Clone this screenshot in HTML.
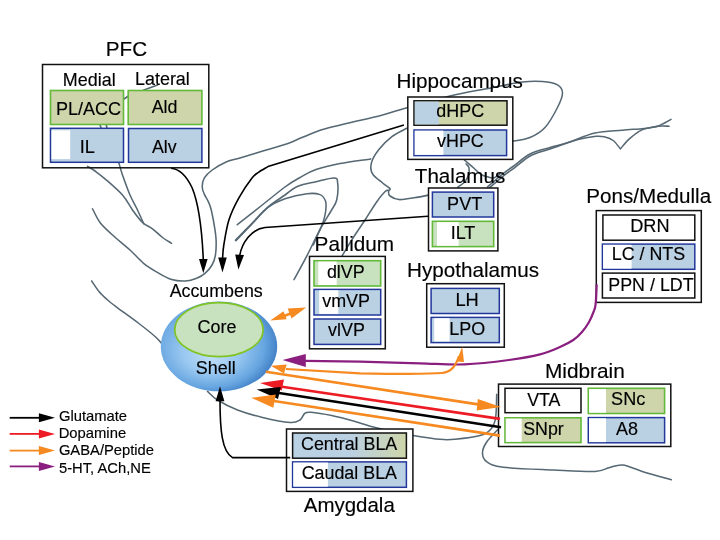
<!DOCTYPE html>
<html><head><meta charset="utf-8">
<style>
html,body{margin:0;padding:0;background:#fff;overflow:hidden;}
svg{display:block;}
text{font-family:"Liberation Sans",sans-serif;fill:#000;stroke:#000;stroke-width:0.15px;}
svg{will-change:transform;}
</style></head>
<body>
<svg width="720" height="540" viewBox="0 0 720 540">
<defs>
<radialGradient id="shell" cx="0.42" cy="0.45" r="0.62" fx="0.44" fy="0.62">
<stop offset="0" stop-color="#c0def8"/>
<stop offset="0.4" stop-color="#98c7f0"/>
<stop offset="0.75" stop-color="#66a5e0"/>
<stop offset="1" stop-color="#3a78c0"/>
</radialGradient>
<linearGradient id="cbla" x1="0" x2="1" y1="0" y2="0">
<stop offset="0" stop-color="#bad0e3"/>
<stop offset="0.5" stop-color="#bad0e3"/>
<stop offset="1" stop-color="#ced5aa"/>
</linearGradient>
</defs>

<g fill="none" stroke="#566873" stroke-width="1.55" stroke-linecap="round" stroke-linejoin="round">
<path d="M87.5,166.3 C88.8,167.1 92.1,168.9 95.0,171.0 C97.9,173.1 100.4,174.8 105.0,178.8 C109.6,182.8 117.9,189.8 122.5,195.0 C127.1,200.2 129.2,205.4 132.5,210.0 C135.8,214.6 139.2,219.4 142.5,222.5 C145.8,225.6 149.2,226.3 152.5,228.8 C155.8,231.3 159.3,235.1 162.5,237.5 C165.7,239.9 170.0,242.3 171.5,243.3"/>
<path d="M118.8,162.5 C119.4,164.6 120.6,169.6 122.5,175.0 C124.4,180.4 127.5,189.2 130.0,195.0 C132.5,200.8 135.2,205.2 137.5,210.0 C139.8,214.8 142.7,221.5 143.8,223.8"/>
<path d="M92.5,208.8 C93.8,211.0 96.7,218.1 100.0,222.5 C103.3,226.9 107.5,230.4 112.5,235.0 C117.5,239.6 124.8,245.2 130.0,250.0 C135.2,254.8 139.3,259.8 143.9,263.6 C148.5,267.4 153.2,269.9 157.8,272.6 C162.4,275.3 167.1,278.2 171.7,279.6 C176.3,281.0 181.4,281.2 185.6,281.0 C189.8,280.8 193.5,279.5 196.7,278.2 C199.9,276.9 202.4,275.5 205.0,273.3 C207.6,271.1 210.3,268.0 212.0,265.0 C213.7,262.0 214.7,259.5 215.4,255.3 C216.1,251.1 216.3,245.1 216.1,240.0 C215.9,234.9 215.1,230.3 214.2,225.0 C213.3,219.7 211.9,212.5 210.8,208.3 C209.7,204.1 208.6,202.3 207.5,200.0 C206.4,197.7 205.3,196.6 204.4,194.4 C203.5,192.2 202.2,189.5 202.2,186.7 C202.2,183.9 202.7,180.6 204.4,177.8 C206.1,175.0 208.7,172.6 212.2,170.0 C215.7,167.4 221.0,164.2 225.6,162.2 C230.2,160.2 233.7,159.8 240.0,157.9 C246.3,156.0 255.7,153.2 263.6,150.8 C271.5,148.4 280.9,145.9 287.2,143.7 C293.5,141.5 295.5,140.2 301.4,137.8 C307.3,135.4 315.1,131.9 322.6,129.5 C330.1,127.1 336.5,126.0 346.3,123.6 C356.1,121.2 371.4,118.0 381.7,115.3 C391.9,112.6 396.4,110.6 407.8,107.4 C419.2,104.2 437.1,99.1 450.0,96.0 C462.9,92.9 472.9,91.3 485.0,89.0 C497.1,86.7 512.9,83.2 522.5,82.0 C532.1,80.8 536.7,81.0 542.5,81.5 C548.3,82.0 554.2,82.9 557.5,84.8 C560.8,86.7 562.5,89.2 562.5,93.0 C562.5,96.8 560.4,101.8 557.5,107.5 C554.6,113.2 549.6,122.5 545.0,127.5 C540.4,132.5 535.4,135.2 530.0,137.5 C524.6,139.8 515.4,140.7 512.5,141.3"/>
<path d="M91.7,281.0 C92.9,282.8 96.5,288.4 99.0,291.5 C101.5,294.6 104.2,297.0 107.0,299.5 C109.8,302.0 110.2,302.3 115.5,306.3 C120.8,310.3 132.2,318.4 138.9,323.5 C145.6,328.6 151.6,333.4 155.6,337.0 C159.6,340.6 161.8,343.7 163.0,345.0"/>
<path d="M237.3,224.7 C241.2,221.6 253.1,212.3 261.0,206.0 C268.9,199.7 278.5,191.8 285.0,187.0 C291.5,182.2 294.8,180.4 300.0,177.5 C305.2,174.6 309.3,171.9 316.0,169.6 C322.7,167.3 330.9,165.3 340.0,163.5 C349.1,161.7 365.5,159.7 370.6,158.9"/>
<path d="M235.4,240.3 C238.1,237.5 246.2,229.2 251.6,223.7 C257.0,218.2 262.2,212.0 267.8,207.2 C273.4,202.4 280.0,198.5 285.0,195.0 C290.0,191.5 292.6,188.5 297.8,186.3 C303.0,184.1 310.0,183.1 316.0,181.7 C322.0,180.3 330.4,177.8 334.0,178.0 C337.6,178.2 337.2,178.9 337.6,182.6 C338.1,186.3 337.8,195.3 336.7,200.0 C335.6,204.7 333.8,206.1 331.0,211.0 C328.2,215.9 324.0,222.2 320.0,229.6 C316.0,237.0 311.3,247.3 307.0,255.6 C302.7,263.9 296.2,275.6 294.0,279.6"/>
<path d="M235.9,240.6 C238.6,237.8 246.7,229.5 252.0,224.0 C257.3,218.5 262.3,211.8 267.8,207.6 C273.3,203.4 278.5,201.1 285.0,198.8 C291.5,196.5 301.2,194.4 307.0,193.7 C312.8,193.0 316.9,193.4 320.0,194.6 C323.1,195.8 324.5,198.4 325.5,201.0 C326.5,203.6 326.1,206.7 325.8,210.0 C325.5,213.3 324.7,217.2 323.5,221.0 C322.3,224.8 320.2,229.0 318.5,233.0 C316.8,237.0 314.2,243.0 313.3,245.0"/>
<path d="M341.8,256.3 C343.7,253.2 349.1,244.1 353.0,238.0 C356.9,231.9 361.0,226.1 365.0,220.0 C369.0,213.9 373.6,206.3 377.0,201.5 C380.4,196.7 383.4,193.2 385.4,191.3 C387.4,189.5 388.4,190.6 389.0,190.4"/>
<path d="M406.7,128.3 C404.2,129.7 396.5,133.1 391.9,136.7 C387.3,140.2 382.3,145.3 378.9,149.6 C375.5,153.9 372.6,158.6 371.5,162.6 C370.4,166.6 370.5,170.3 372.4,173.7 C374.2,177.1 379.7,180.5 382.6,183.0 C385.5,185.5 389.0,187.1 390.0,188.5 C391.0,189.9 388.5,190.2 388.5,191.5 C388.5,192.8 388.2,194.7 390.0,196.0 C391.8,197.3 395.0,199.3 399.0,199.6 C403.0,199.9 409.0,198.6 414.0,197.8 C419.0,197.0 426.4,195.5 428.9,195.0"/>
<path d="M464.4,160.0 C465.7,161.1 469.4,164.3 472.2,166.7 C475.0,169.1 478.2,172.7 481.0,174.4 C483.8,176.2 486.7,176.6 488.9,177.2 C491.1,177.8 492.5,178.4 494.4,177.8 C496.2,177.2 499.1,174.6 500.0,173.9"/>
<path d="M487.5,187.0 C489.9,184.9 497.8,177.9 502.0,174.5 C506.2,171.1 508.3,169.9 513.0,166.5 C517.7,163.1 523.8,157.2 530.0,154.0 C536.2,150.8 543.7,149.4 550.0,147.5 C556.3,145.6 560.5,144.9 568.0,142.5 C575.5,140.1 586.0,135.2 595.0,133.1 C604.0,131.0 614.1,131.0 622.2,130.2 C630.4,129.4 637.9,129.1 643.9,128.4 C649.9,127.7 653.8,127.4 658.3,125.9 C662.8,124.4 668.9,120.5 671.0,119.4"/>
<path d="M489.5,187.8 C491.8,185.8 499.3,179.1 503.5,175.8 C507.7,172.5 509.9,171.2 514.5,167.8 C519.1,164.4 525.1,158.6 531.0,155.5 C536.9,152.4 542.3,151.6 550.0,149.0 C557.7,146.4 569.3,141.9 577.0,139.8 C584.7,137.7 591.3,136.8 596.0,136.3 C600.7,135.8 602.1,136.3 605.0,137.0 C607.9,137.7 610.6,138.5 613.2,140.5 C615.8,142.5 619.2,147.4 620.4,148.8"/>
<path d="M620.4,148.8 C621.9,147.2 625.8,142.1 629.4,138.9 C633.0,135.8 637.2,132.0 642.0,129.9 C646.8,127.8 653.8,126.8 658.3,126.2 C662.8,125.6 667.3,126.2 669.1,126.2"/>
<path d="M466.0,163.9 C466.5,164.6 468.6,165.9 469.0,167.8 C469.4,169.8 469.1,173.2 468.3,175.6 C467.5,178.0 466.1,180.3 464.4,182.2 C462.6,184.1 458.9,186.4 457.8,187.2"/>
<path d="M207.5,391.3 C209.2,392.8 212.5,396.9 217.5,400.0 C222.5,403.1 230.0,407.1 237.5,410.0 C245.0,412.9 253.8,415.4 262.5,417.5 C271.2,419.6 283.8,422.1 290.0,422.5 C296.2,422.9 297.6,421.5 300.0,420.0 C302.4,418.5 302.8,414.8 304.6,413.5 C306.4,412.2 306.3,411.9 310.8,412.3 C315.3,412.7 324.8,414.2 331.7,415.6 C338.6,417.0 345.6,418.9 352.5,420.8 C359.4,422.7 366.2,425.1 373.3,427.0 C380.4,428.9 388.4,430.6 395.0,432.0 C401.6,433.4 405.5,434.2 413.0,435.4 C420.5,436.6 433.0,438.6 440.0,439.3 C447.0,440.0 448.3,439.9 455.0,439.3 C461.7,438.7 474.0,437.3 480.0,435.6 C486.0,433.9 488.4,431.9 491.0,428.9 C493.6,425.9 494.7,423.6 495.6,417.8 C496.6,412.1 496.5,398.3 496.7,394.4"/>
<path d="M499.0,428.3 C496.9,430.6 489.4,437.9 486.7,442.0 C483.9,446.1 482.5,449.7 482.5,453.0 C482.5,456.3 483.2,459.3 486.7,461.7 C490.2,464.1 492.2,465.8 503.3,467.2 C514.4,468.6 538.0,469.3 553.3,470.0 C568.6,470.7 585.7,471.8 595.0,471.4 C604.3,471.0 604.3,468.9 608.9,467.8 C613.5,466.7 617.2,464.4 622.8,465.0 C628.3,465.6 634.1,468.9 642.2,471.4 C650.3,473.9 666.4,478.4 671.3,479.8"/>
<path d="M143.3,90.3 L157.5,85.0"/>
<path d="M124.0,99.0 L128.4,96.0"/>
<path d="M99.8,124.0 L101.2,128.5"/>
<path d="M106.2,124.0 L107.0,128.5"/>
</g>

<!-- PFC -->
<rect x="42.5" y="64.5" width="166.3" height="103.3" fill="none" stroke="#111" stroke-width="1.5"/>
<rect x="50.5" y="90.5" width="73" height="34" fill="#ced5aa" stroke="#62b93a" stroke-width="1.6"/>
<rect x="128.2" y="90.5" width="73.7" height="34" fill="#ced5aa" stroke="#62b93a" stroke-width="1.6"/>
<rect x="50.5" y="128.3" width="73" height="34" fill="#bad0e3" stroke="#22379a" stroke-width="1.5"/>
<rect x="51.5" y="130.3" width="18.7" height="28.8" fill="#fff"/>
<rect x="128.5" y="128.5" width="73.4" height="33.8" fill="#bad0e3" stroke="#22379a" stroke-width="1.5"/>

<!-- Hippocampus -->
<rect x="407.8" y="97" width="105" height="62.4" fill="#fff" stroke="#111" stroke-width="1.5"/>
<rect x="414" y="100.8" width="93" height="24.4" fill="#ced5aa" stroke="#111" stroke-width="1.5"/>
<rect x="414.8" y="101.6" width="24.1" height="22.8" fill="#bad0e3"/>
<rect x="414" y="130" width="92.6" height="25.6" fill="#bad0e3" stroke="#22379a" stroke-width="1.5"/>
<rect x="414.7" y="130.7" width="28.7" height="24.2" fill="#fff"/>

<!-- Thalamus -->
<rect x="428.5" y="188" width="69.4" height="62.9" fill="#fff" stroke="#111" stroke-width="1.5"/>
<rect x="432.4" y="192.1" width="61.3" height="24.9" fill="#bad0e3" stroke="#22379a" stroke-width="1.5"/>
<rect x="432.4" y="221.3" width="61.3" height="25.3" fill="#c8e1be" stroke="#62b93a" stroke-width="1.6"/>
<rect x="437" y="222.2" width="21.7" height="23.6" fill="#fff"/>

<!-- Pallidum -->
<rect x="309.5" y="256.4" width="75.8" height="92.4" fill="#fff" stroke="#111" stroke-width="1.5"/>
<rect x="314" y="260.7" width="66.7" height="25.3" fill="#c8e1be" stroke="#62b93a" stroke-width="1.6"/>
<rect x="318.3" y="261.6" width="18.4" height="23.4" fill="#fff"/>
<rect x="314" y="289.4" width="66.7" height="25.6" fill="#bad0e3" stroke="#22379a" stroke-width="1.5"/>
<rect x="319.2" y="290.3" width="19.1" height="23.6" fill="#fff"/>
<rect x="314" y="319" width="66.7" height="25.4" fill="#bad0e3" stroke="#22379a" stroke-width="1.5"/>

<!-- Hypothalamus -->
<rect x="426.7" y="283.7" width="77.6" height="63.5" fill="#fff" stroke="#111" stroke-width="1.5"/>
<rect x="431.1" y="288.4" width="68.2" height="25.1" fill="#bad0e3" stroke="#22379a" stroke-width="1.5"/>
<rect x="431.1" y="317.4" width="68.2" height="25.2" fill="#bad0e3" stroke="#22379a" stroke-width="1.5"/>
<rect x="434.2" y="318.2" width="15.4" height="23.2" fill="#fff"/>

<!-- Pons/Medulla -->
<rect x="596.3" y="210.6" width="105" height="91.8" fill="#fff" stroke="#111" stroke-width="1.5"/>
<rect x="602.9" y="215" width="91.9" height="25.2" fill="#fff" stroke="#111" stroke-width="1.5"/>
<rect x="602.4" y="244.1" width="92.4" height="25.2" fill="#bad0e3" stroke="#22379a" stroke-width="1.5"/>
<rect x="603.1" y="244.8" width="28.5" height="23.8" fill="#fff"/>
<rect x="602.4" y="273.1" width="92.4" height="24.9" fill="#fff" stroke="#111" stroke-width="1.5"/>

<!-- Midbrain -->
<rect x="498.5" y="384.1" width="172.3" height="62.4" fill="#fff" stroke="#111" stroke-width="1.5"/>
<rect x="505" y="388.3" width="76" height="24.4" fill="#fff" stroke="#111" stroke-width="1.5"/>
<rect x="588.3" y="388.3" width="76.3" height="25.2" fill="#ced5aa" stroke="#62b93a" stroke-width="1.6"/>
<rect x="589.1" y="389.1" width="16.9" height="23.6" fill="#fff"/>
<rect x="505" y="417.8" width="76" height="24.8" fill="#ced5aa" stroke="#62b93a" stroke-width="1.6"/>
<rect x="505.8" y="418.6" width="15.9" height="23.2" fill="#fff"/>
<rect x="588.3" y="417.6" width="76.3" height="25.2" fill="#bad0e3" stroke="#22379a" stroke-width="1.5"/>
<rect x="589" y="418.3" width="17" height="23.8" fill="#fff"/>

<!-- Amygdala -->
<rect x="286.5" y="429" width="126.4" height="62.4" fill="#fff" stroke="#111" stroke-width="1.5"/>
<rect x="292.6" y="433" width="113.8" height="25.2" fill="url(#cbla)" stroke="#111" stroke-width="1.5"/>
<rect x="292.6" y="461.9" width="113.8" height="25.4" fill="#bad0e3" stroke="#22379a" stroke-width="1.5"/>
<rect x="293.3" y="462.6" width="34.6" height="24" fill="#fff"/>

<!-- Accumbens -->
<ellipse cx="219" cy="346.4" rx="58.2" ry="44.9" fill="url(#shell)"/>
<ellipse cx="218.9" cy="329.7" rx="44.2" ry="27" fill="#c8e1be" stroke="#80c423" stroke-width="1.7"/>

<!-- black arrows -->
<g fill="none" stroke="#000" stroke-width="1.6">
<path d="M171.1,168.3 C180,169 187,177 192.2,188 C198,202 202,230 203.3,260"/>
<path d="M403.9,125 L268,166.6 C266.4,167.6 261.1,170.4 258.5,172.3 C255.9,174.2 255.5,173.6 252.2,177.8 C248.9,182.1 242.8,190.8 238.9,197.8 C235.0,204.8 231.4,212.1 228.9,220.0 C226.4,227.9 224.9,238.7 223.8,245.0 C222.8,251.3 222.8,255.8 222.6,258.0"/>
<path d="M428,216.3 L265,227.5 C252,229 242,242 239.6,256"/>
<path d="M290.2,457.6 L232.5,457.6 C222,452 220,430 220,400"/>
</g>
<g fill="#000">
<path d="M203.3,273.3 L199,259 L207.6,259 Z"/>
<path d="M222.5,272.5 L218.2,257.5 L226.8,257.5 Z"/>
<path d="M238.4,269.6 L235.2,254.4 L244,255 Z"/>
<path d="M220,386.3 L215.6,401.3 L224.4,401.3 Z"/>
</g>

<!-- colored arrows -->
<g fill="none" stroke-width="2.6">
<path stroke="#8b1f7f" stroke-width="2.2" d="M305.0,360.8 C314.2,360.9 340.8,361.3 360.0,361.7 C379.2,362.1 402.6,362.9 420.0,363.3 C437.4,363.8 449.6,364.9 464.4,364.4 C479.2,363.8 496.3,361.7 508.9,360.0 C521.5,358.3 531.5,356.6 540.0,354.4 C548.5,352.2 554.5,349.4 560.0,347.0 C565.5,344.6 569.6,342.5 573.3,340.0 C577.0,337.5 579.4,335.0 582.0,332.0 C584.6,329.0 587.0,325.5 588.9,322.2 C590.8,318.9 592.4,315.0 593.5,312.0 C594.6,309.0 595.1,309.0 595.6,304.4 C596.1,299.8 596.5,287.7 596.7,284.4"/>
<path stroke="#f6891f" stroke-width="2.2" d="M286,369 L360,373.3 C400,374 430,374 442,373 C452,372 456,365 459,356"/>
<path stroke="#f6891f" d="M265.8,371.7 L478,404.4"/>
<path stroke="#ed1c24" d="M282,386.7 L500,418.9"/>
<path stroke="#000" d="M279,393 L501,427.3"/>
<path stroke="#f6891f" d="M274,401 L500,435.6"/>
<path stroke="#f6891f" d="M283,316.5 L293,312.5"/>
</g>
<g>
<path fill="#8b1f7f" d="M282.5,360 L305.8,354 L305.8,367 Z"/>
<path fill="#f6891f" d="M270.8,365.8 L286.7,364.5 L284,373.5 Z"/>
<path fill="#f6891f" d="M462.2,346.7 L456.5,361.5 L464,362 Z"/>
<path fill="#f6891f" d="M501,407 L477.8,398.9 L476.7,410.5 Z"/>
<path fill="#ed1c24" d="M260,383 L284,379.5 L281.7,390.5 Z"/>
<path fill="#000" d="M256.7,389.5 L280.8,387 L278,399 Z"/>
<path fill="#f6891f" d="M251.3,397.8 L275.8,394.5 L273.3,407.8 Z"/>
<path fill="#f6891f" d="M270.3,320.6 L283.5,311.2 L286.7,319.2 Z"/>
<path fill="#f6891f" d="M306.1,307.4 L287.7,308.4 L291.5,318.5 Z"/>
</g>

<!-- legend arrows -->
<g stroke-width="1.8">
<line x1="9.7" y1="417.8" x2="40" y2="417.8" stroke="#000"/>
<line x1="9.7" y1="433.9" x2="40" y2="433.9" stroke="#ed1c24"/>
<line x1="9.7" y1="450.6" x2="40" y2="450.6" stroke="#f6891f"/>
<line x1="9.7" y1="466.4" x2="40" y2="466.4" stroke="#8b1f7f"/>
</g>
<path fill="#000" d="M55,417.8 L38.9,413.3 L38.9,422.3 Z"/>
<path fill="#ed1c24" d="M55,433.9 L38.9,429.4 L38.9,438.4 Z"/>
<path fill="#f6891f" d="M55,450.6 L38.9,446.1 L38.9,455.1 Z"/>
<path fill="#8b1f7f" d="M55,466.4 L38.9,461.9 L38.9,470.9 Z"/>

<text transform="translate(105.84,55.80) scale(1.000,1)" font-size="20.65">PFC</text>
<text transform="translate(62.86,85.50) scale(1.000,1)" font-size="17.93">Medial</text>
<text transform="translate(134.97,85.00) scale(1.000,1)" font-size="17.94">Lateral</text>
<text transform="translate(55.90,114.50) scale(1.000,1)" font-size="18.00">PL/ACC</text>
<text transform="translate(151.65,112.60) scale(1.000,1)" font-size="17.86">Ald</text>
<text transform="translate(79.80,153.00) scale(1.000,1)" font-size="18.15">IL</text>
<text transform="translate(151.98,152.80) scale(1.000,1)" font-size="17.74">Alv</text>
<text transform="translate(396.61,87.80) scale(1.000,1)" font-size="20.66">Hippocampus</text>
<text transform="translate(436.32,117.00) scale(1.000,1)" font-size="17.92">dHPC</text>
<text transform="translate(437.11,147.20) scale(1.000,1)" font-size="17.86">vHPC</text>
<text transform="translate(414.82,183.00) scale(1.000,1)" font-size="20.61">Thalamus</text>
<text transform="translate(447.11,209.60) scale(1.000,1)" font-size="18.04">PVT</text>
<text transform="translate(450.67,238.60) scale(1.000,1)" font-size="17.97">ILT</text>
<text transform="translate(314.57,250.60) scale(1.000,1)" font-size="20.74">Pallidum</text>
<text transform="translate(326.90,277.50) scale(1.000,1)" font-size="17.91">dlVP</text>
<text transform="translate(322.24,306.80) scale(1.000,1)" font-size="17.91">vmVP</text>
<text transform="translate(328.08,336.00) scale(1.000,1)" font-size="17.88">vlVP</text>
<text transform="translate(407.09,276.70) scale(1.000,1)" font-size="20.67">Hypothalamus</text>
<text transform="translate(455.46,305.80) scale(1.000,1)" font-size="18.27">LH</text>
<text transform="translate(449.24,335.00) scale(1.000,1)" font-size="17.94">LPO</text>
<text transform="translate(586.29,202.60) scale(1.000,1)" font-size="20.62">Pons/Medulla</text>
<text transform="translate(630.19,232.20) scale(1.000,1)" font-size="18.17">DRN</text>
<text transform="translate(611.76,260.40) scale(1.000,1)" font-size="17.87">LC / NTS</text>
<text transform="translate(608.28,290.60) scale(1.000,1)" font-size="17.88">PPN / LDT</text>
<text transform="translate(544.94,377.70) scale(1.000,1)" font-size="20.81">Midbrain</text>
<text transform="translate(527.22,405.50) scale(1.000,1)" font-size="17.79">VTA</text>
<text transform="translate(611.10,405.00) scale(1.000,1)" font-size="18.07">SNc</text>
<text transform="translate(523.22,435.00) scale(1.000,1)" font-size="17.82">SNpr</text>
<text transform="translate(616.06,435.00) scale(1.000,1)" font-size="17.95">A8</text>
<text transform="translate(300.98,449.60) scale(1.000,1)" font-size="17.88">Central BLA</text>
<text transform="translate(301.67,479.20) scale(1.000,1)" font-size="17.86">Caudal BLA</text>
<text transform="translate(303.74,511.80) scale(1.000,1)" font-size="20.48">Amygdala</text>
<text transform="translate(169.63,296.70) scale(1.000,1)" font-size="17.83">Accumbens</text>
<text transform="translate(197.62,333.00) scale(1.000,1)" font-size="17.91">Core</text>
<text transform="translate(195.85,373.70) scale(1.000,1)" font-size="17.92">Shell</text>
<text transform="translate(58.94,420.60) scale(1.000,1)" font-size="14.77">Glutamate</text>
<text transform="translate(58.67,437.80) scale(1.000,1)" font-size="14.81">Dopamine</text>
<text transform="translate(58.90,455.30) scale(1.000,1)" font-size="14.76">GABA/Peptide</text>
<text transform="translate(58.98,473.30) scale(1.000,1)" font-size="14.75">5-HT, ACh,NE</text>
</svg>
</body></html>
